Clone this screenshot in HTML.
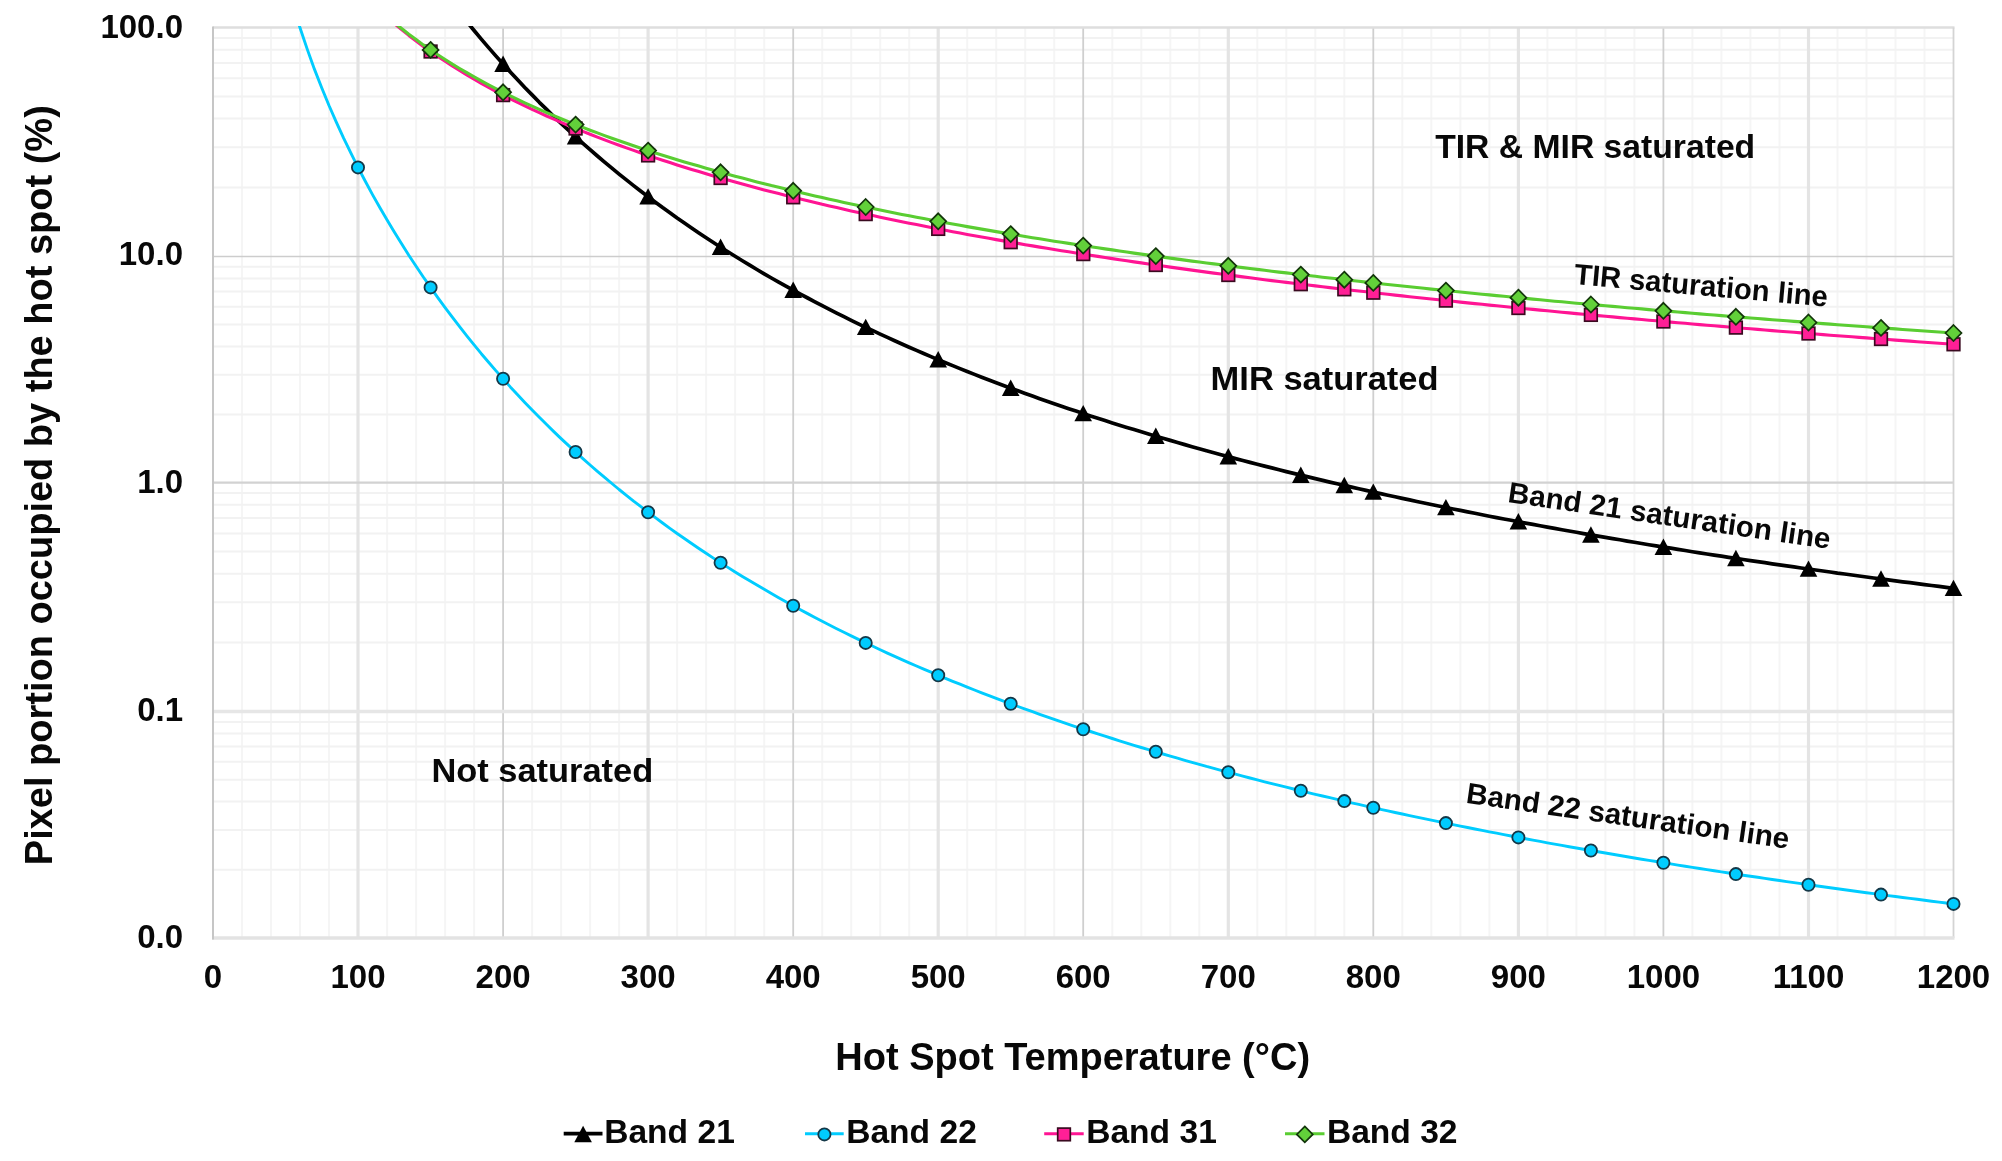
<!DOCTYPE html>
<html lang="en"><head><meta charset="utf-8"><title>Saturation lines</title>
<style>html,body{margin:0;padding:0;background:#fff;}body{width:2002px;height:1161px;overflow:hidden;}svg{display:block;filter:blur(0.55px);}
text{font-family:"Liberation Sans",Arial,sans-serif;font-weight:bold;fill:#080808;}
.ax{font-size:33px;}.ttl{font-size:38px;}.lg{font-size:33.6px;}.ann{font-size:33.3px;}.rot{font-size:29.3px;}
</style></head><body>
<svg width="2002" height="1161" viewBox="0 0 2002 1161">
<defs><clipPath id="plot"><rect x="212.0" y="26.0" width="1742.5" height="913.5"/></clipPath></defs>
<rect width="2002" height="1161" fill="#fff"/>
<g stroke="#f5f5f5" stroke-width="2" fill="none">
<line x1="242.0" y1="27.5" x2="242.0" y2="938.0"/>
<line x1="271.0" y1="27.5" x2="271.0" y2="938.0"/>
<line x1="300.0" y1="27.5" x2="300.0" y2="938.0"/>
<line x1="329.0" y1="27.5" x2="329.0" y2="938.0"/>
<line x1="387.1" y1="27.5" x2="387.1" y2="938.0"/>
<line x1="416.1" y1="27.5" x2="416.1" y2="938.0"/>
<line x1="445.1" y1="27.5" x2="445.1" y2="938.0"/>
<line x1="474.1" y1="27.5" x2="474.1" y2="938.0"/>
<line x1="532.1" y1="27.5" x2="532.1" y2="938.0"/>
<line x1="561.1" y1="27.5" x2="561.1" y2="938.0"/>
<line x1="590.1" y1="27.5" x2="590.1" y2="938.0"/>
<line x1="619.1" y1="27.5" x2="619.1" y2="938.0"/>
<line x1="677.1" y1="27.5" x2="677.1" y2="938.0"/>
<line x1="706.1" y1="27.5" x2="706.1" y2="938.0"/>
<line x1="735.1" y1="27.5" x2="735.1" y2="938.0"/>
<line x1="764.2" y1="27.5" x2="764.2" y2="938.0"/>
<line x1="822.2" y1="27.5" x2="822.2" y2="938.0"/>
<line x1="851.2" y1="27.5" x2="851.2" y2="938.0"/>
<line x1="880.2" y1="27.5" x2="880.2" y2="938.0"/>
<line x1="909.2" y1="27.5" x2="909.2" y2="938.0"/>
<line x1="967.2" y1="27.5" x2="967.2" y2="938.0"/>
<line x1="996.2" y1="27.5" x2="996.2" y2="938.0"/>
<line x1="1025.2" y1="27.5" x2="1025.2" y2="938.0"/>
<line x1="1054.2" y1="27.5" x2="1054.2" y2="938.0"/>
<line x1="1112.3" y1="27.5" x2="1112.3" y2="938.0"/>
<line x1="1141.3" y1="27.5" x2="1141.3" y2="938.0"/>
<line x1="1170.3" y1="27.5" x2="1170.3" y2="938.0"/>
<line x1="1199.3" y1="27.5" x2="1199.3" y2="938.0"/>
<line x1="1257.3" y1="27.5" x2="1257.3" y2="938.0"/>
<line x1="1286.3" y1="27.5" x2="1286.3" y2="938.0"/>
<line x1="1315.3" y1="27.5" x2="1315.3" y2="938.0"/>
<line x1="1344.3" y1="27.5" x2="1344.3" y2="938.0"/>
<line x1="1402.3" y1="27.5" x2="1402.3" y2="938.0"/>
<line x1="1431.3" y1="27.5" x2="1431.3" y2="938.0"/>
<line x1="1460.4" y1="27.5" x2="1460.4" y2="938.0"/>
<line x1="1489.4" y1="27.5" x2="1489.4" y2="938.0"/>
<line x1="1547.4" y1="27.5" x2="1547.4" y2="938.0"/>
<line x1="1576.4" y1="27.5" x2="1576.4" y2="938.0"/>
<line x1="1605.4" y1="27.5" x2="1605.4" y2="938.0"/>
<line x1="1634.4" y1="27.5" x2="1634.4" y2="938.0"/>
<line x1="1692.4" y1="27.5" x2="1692.4" y2="938.0"/>
<line x1="1721.4" y1="27.5" x2="1721.4" y2="938.0"/>
<line x1="1750.4" y1="27.5" x2="1750.4" y2="938.0"/>
<line x1="1779.5" y1="27.5" x2="1779.5" y2="938.0"/>
<line x1="1837.5" y1="27.5" x2="1837.5" y2="938.0"/>
<line x1="1866.5" y1="27.5" x2="1866.5" y2="938.0"/>
<line x1="1895.5" y1="27.5" x2="1895.5" y2="938.0"/>
<line x1="1924.5" y1="27.5" x2="1924.5" y2="938.0"/>
</g>
<g stroke="#f2f2f2" stroke-width="2" fill="none">
<line x1="213.0" y1="187.6" x2="1953.5" y2="187.6"/>
<line x1="213.0" y1="147.2" x2="1953.5" y2="147.2"/>
<line x1="213.0" y1="118.6" x2="1953.5" y2="118.6"/>
<line x1="213.0" y1="96.4" x2="1953.5" y2="96.4"/>
<line x1="213.0" y1="78.3" x2="1953.5" y2="78.3"/>
<line x1="213.0" y1="63.0" x2="1953.5" y2="63.0"/>
<line x1="213.0" y1="49.7" x2="1953.5" y2="49.7"/>
<line x1="213.0" y1="38.0" x2="1953.5" y2="38.0"/>
<line x1="213.0" y1="414.5" x2="1953.5" y2="414.5"/>
<line x1="213.0" y1="374.7" x2="1953.5" y2="374.7"/>
<line x1="213.0" y1="346.5" x2="1953.5" y2="346.5"/>
<line x1="213.0" y1="324.6" x2="1953.5" y2="324.6"/>
<line x1="213.0" y1="306.7" x2="1953.5" y2="306.7"/>
<line x1="213.0" y1="291.5" x2="1953.5" y2="291.5"/>
<line x1="213.0" y1="278.4" x2="1953.5" y2="278.4"/>
<line x1="213.0" y1="266.8" x2="1953.5" y2="266.8"/>
<line x1="213.0" y1="642.6" x2="1953.5" y2="642.6"/>
<line x1="213.0" y1="602.3" x2="1953.5" y2="602.3"/>
<line x1="213.0" y1="573.7" x2="1953.5" y2="573.7"/>
<line x1="213.0" y1="551.5" x2="1953.5" y2="551.5"/>
<line x1="213.0" y1="533.4" x2="1953.5" y2="533.4"/>
<line x1="213.0" y1="518.1" x2="1953.5" y2="518.1"/>
<line x1="213.0" y1="504.8" x2="1953.5" y2="504.8"/>
<line x1="213.0" y1="493.1" x2="1953.5" y2="493.1"/>
<line x1="213.0" y1="869.8" x2="1953.5" y2="869.8"/>
<line x1="213.0" y1="829.9" x2="1953.5" y2="829.9"/>
<line x1="213.0" y1="801.6" x2="1953.5" y2="801.6"/>
<line x1="213.0" y1="779.7" x2="1953.5" y2="779.7"/>
<line x1="213.0" y1="761.7" x2="1953.5" y2="761.7"/>
<line x1="213.0" y1="746.6" x2="1953.5" y2="746.6"/>
<line x1="213.0" y1="733.5" x2="1953.5" y2="733.5"/>
<line x1="213.0" y1="721.9" x2="1953.5" y2="721.9"/>
</g>
<line x1="358.0" y1="27.5" x2="358.0" y2="938.0" stroke="#e4e4e4" stroke-width="3.2"/>
<line x1="503.1" y1="27.5" x2="503.1" y2="938.0" stroke="#cfcfcf" stroke-width="1.8"/>
<line x1="648.1" y1="27.5" x2="648.1" y2="938.0" stroke="#e4e4e4" stroke-width="3.2"/>
<line x1="793.2" y1="27.5" x2="793.2" y2="938.0" stroke="#cfcfcf" stroke-width="1.8"/>
<line x1="938.2" y1="27.5" x2="938.2" y2="938.0" stroke="#e4e4e4" stroke-width="3.2"/>
<line x1="1083.2" y1="27.5" x2="1083.2" y2="938.0" stroke="#cfcfcf" stroke-width="1.8"/>
<line x1="1228.3" y1="27.5" x2="1228.3" y2="938.0" stroke="#e4e4e4" stroke-width="3.2"/>
<line x1="1373.3" y1="27.5" x2="1373.3" y2="938.0" stroke="#cfcfcf" stroke-width="1.8"/>
<line x1="1518.4" y1="27.5" x2="1518.4" y2="938.0" stroke="#e4e4e4" stroke-width="3.2"/>
<line x1="1663.4" y1="27.5" x2="1663.4" y2="938.0" stroke="#cfcfcf" stroke-width="1.8"/>
<line x1="1808.5" y1="27.5" x2="1808.5" y2="938.0" stroke="#e4e4e4" stroke-width="3.2"/>
<line x1="213.0" y1="256.5" x2="1953.5" y2="256.5" stroke="#cdcdcd" stroke-width="1.4"/>
<line x1="213.0" y1="482.6" x2="1953.5" y2="482.6" stroke="#d2d2d2" stroke-width="2.2"/>
<line x1="213.0" y1="711.5" x2="1953.5" y2="711.5" stroke="#e6e6e6" stroke-width="3.6"/>
<line x1="213.0" y1="27.5" x2="1954.5" y2="27.5" stroke="#dedede" stroke-width="2.4"/>
<line x1="1953.5" y1="27.5" x2="1953.5" y2="938.0" stroke="#d4d4d4" stroke-width="1.8"/>
<line x1="212.0" y1="938.0" x2="1954.5" y2="938.0" stroke="#e3e3e3" stroke-width="3.4"/>
<line x1="213.0" y1="26.5" x2="213.0" y2="939.5" stroke="#c6c6c6" stroke-width="2"/>
<g>
<path d="M408.8 -57.4 L416.1 -46.6 L423.3 -36.2 L430.6 -26.0 L437.8 -16.0 L445.1 -6.3 L452.3 3.2 L459.6 12.5 L466.8 21.6 L474.1 30.5 L481.3 39.1 L488.6 47.6 L495.8 55.9 L503.1 64.1 L510.3 72.0 L517.6 79.8 L524.8 87.5 L532.1 94.9 L539.3 102.3 L546.6 109.4 L553.8 116.5 L561.1 123.4 L568.4 130.1 L575.6 136.8 L582.9 143.3 L590.1 149.7 L597.4 156.0 L604.6 162.1 L611.9 168.2 L619.1 174.1 L626.4 179.9 L633.6 185.6 L640.9 191.3 L648.1 196.8 L655.4 202.2 L662.6 207.6 L669.9 212.8 L677.1 218.0 L684.4 223.0 L691.6 228.0 L698.9 233.0 L706.1 237.8 L713.4 242.5 L720.6 247.2 L727.9 251.8 L735.1 256.3 L742.4 260.8 L749.7 265.2 L756.9 269.5 L764.2 273.8 L771.4 278.0 L778.7 282.1 L785.9 286.2 L793.2 290.2 L800.4 294.1 L807.7 298.0 L814.9 301.9 L822.2 305.7 L829.4 309.4 L836.7 313.1 L843.9 316.7 L851.2 320.3 L858.4 323.8 L865.7 327.3 L872.9 330.7 L880.2 334.1 L887.4 337.4 L894.7 340.7 L901.9 344.0 L909.2 347.2 L916.5 350.4 L923.7 353.5 L931.0 356.6 L938.2 359.7 L945.5 362.7 L952.7 365.6 L960.0 368.6 L967.2 371.5 L974.5 374.4 L981.7 377.2 L989.0 380.0 L996.2 382.7 L1003.5 385.5 L1010.7 388.2 L1018.0 390.8 L1025.2 393.5 L1032.5 396.1 L1039.7 398.7 L1047.0 401.2 L1054.2 403.7 L1061.5 406.2 L1068.7 408.7 L1076.0 411.1 L1083.2 413.5 L1090.5 415.9 L1097.8 418.2 L1105.0 420.6 L1112.3 422.9 L1119.5 425.2 L1126.8 427.4 L1134.0 429.6 L1141.3 431.8 L1148.5 434.0 L1155.8 436.2 L1163.0 438.3 L1170.3 440.4 L1177.5 442.5 L1184.8 444.6 L1192.0 446.7 L1199.3 448.7 L1206.5 450.7 L1213.8 452.7 L1221.0 454.7 L1228.3 456.6 L1235.5 458.6 L1242.8 460.5 L1250.0 462.4 L1257.3 464.2 L1264.6 466.1 L1271.8 467.9 L1279.1 469.8 L1286.3 471.6 L1293.6 473.4 L1300.8 475.1 L1308.1 476.9 L1315.3 478.6 L1322.6 480.4 L1329.8 482.1 L1337.1 483.8 L1344.3 485.4 L1351.6 487.1 L1358.8 488.8 L1366.1 490.4 L1373.3 492.0 L1380.6 493.6 L1387.8 495.2 L1395.1 496.8 L1402.3 498.4 L1409.6 499.9 L1416.8 501.5 L1424.1 503.0 L1431.3 504.5 L1438.6 506.0 L1445.9 507.5 L1453.1 509.0 L1460.4 510.4 L1467.6 511.9 L1474.9 513.3 L1482.1 514.7 L1489.4 516.2 L1496.6 517.6 L1503.9 519.0 L1511.1 520.3 L1518.4 521.7 L1525.6 523.1 L1532.9 524.4 L1540.1 525.8 L1547.4 527.1 L1554.6 528.4 L1561.9 529.7 L1569.1 531.0 L1576.4 532.3 L1583.6 533.6 L1590.9 534.9 L1598.1 536.1 L1605.4 537.4 L1612.7 538.6 L1619.9 539.8 L1627.2 541.1 L1634.4 542.3 L1641.7 543.5 L1648.9 544.7 L1656.2 545.9 L1663.4 547.1 L1670.7 548.2 L1677.9 549.4 L1685.2 550.5 L1692.4 551.7 L1699.7 552.8 L1706.9 554.0 L1714.2 555.1 L1721.4 556.2 L1728.7 557.3 L1735.9 558.4 L1743.2 559.5 L1750.4 560.6 L1757.7 561.7 L1764.9 562.7 L1772.2 563.8 L1779.5 564.8 L1786.7 565.9 L1794.0 566.9 L1801.2 568.0 L1808.5 569.0 L1815.7 570.0 L1823.0 571.0 L1830.2 572.0 L1837.5 573.1 L1844.7 574.0 L1852.0 575.0 L1859.2 576.0 L1866.5 577.0 L1873.7 578.0 L1881.0 578.9 L1888.2 579.9 L1895.5 580.8 L1902.7 581.8 L1910.0 582.7 L1917.2 583.7 L1924.5 584.6 L1931.7 585.5 L1939.0 586.4 L1946.2 587.3 L1953.5 588.3" fill="none" stroke="#000000" stroke-width="3.7" stroke-linejoin="round" clip-path="url(#plot)"/>
<path d="M503.1 55.5 l8.8 16.4 h-17.6 z" fill="#000"/>
<path d="M575.6 128.2 l8.8 16.4 h-17.6 z" fill="#000"/>
<path d="M648.1 188.2 l8.8 16.4 h-17.6 z" fill="#000"/>
<path d="M720.6 238.6 l8.8 16.4 h-17.6 z" fill="#000"/>
<path d="M793.2 281.6 l8.8 16.4 h-17.6 z" fill="#000"/>
<path d="M865.7 318.7 l8.8 16.4 h-17.6 z" fill="#000"/>
<path d="M938.2 351.1 l8.8 16.4 h-17.6 z" fill="#000"/>
<path d="M1010.7 379.6 l8.8 16.4 h-17.6 z" fill="#000"/>
<path d="M1083.2 404.9 l8.8 16.4 h-17.6 z" fill="#000"/>
<path d="M1155.8 427.6 l8.8 16.4 h-17.6 z" fill="#000"/>
<path d="M1228.3 448.0 l8.8 16.4 h-17.6 z" fill="#000"/>
<path d="M1300.8 466.5 l8.8 16.4 h-17.6 z" fill="#000"/>
<path d="M1344.3 476.8 l8.8 16.4 h-17.6 z" fill="#000"/>
<path d="M1373.3 483.4 l8.8 16.4 h-17.6 z" fill="#000"/>
<path d="M1445.9 498.9 l8.8 16.4 h-17.6 z" fill="#000"/>
<path d="M1518.4 513.1 l8.8 16.4 h-17.6 z" fill="#000"/>
<path d="M1590.9 526.3 l8.8 16.4 h-17.6 z" fill="#000"/>
<path d="M1663.4 538.5 l8.8 16.4 h-17.6 z" fill="#000"/>
<path d="M1735.9 549.8 l8.8 16.4 h-17.6 z" fill="#000"/>
<path d="M1808.5 560.4 l8.8 16.4 h-17.6 z" fill="#000"/>
<path d="M1881.0 570.3 l8.8 16.4 h-17.6 z" fill="#000"/>
<path d="M1953.5 579.7 l8.8 16.4 h-17.6 z" fill="#000"/>
<path d="M278.3 -53.8 L285.5 -22.8 L292.8 4.0 L300.0 27.8 L307.3 49.4 L314.5 69.4 L321.8 88.0 L329.0 105.5 L336.3 122.1 L343.5 137.9 L350.8 152.9 L358.0 167.4 L365.3 181.2 L372.5 194.6 L379.8 207.5 L387.1 220.0 L394.3 232.1 L401.6 243.8 L408.8 255.2 L416.1 266.2 L423.3 277.0 L430.6 287.4 L437.8 297.6 L445.1 307.6 L452.3 317.2 L459.6 326.7 L466.8 335.9 L474.1 344.9 L481.3 353.7 L488.6 362.2 L495.8 370.6 L503.1 378.8 L510.3 386.9 L517.6 394.7 L524.8 402.4 L532.1 409.9 L539.3 417.3 L546.6 424.5 L553.8 431.6 L561.1 438.6 L568.4 445.4 L575.6 452.0 L582.9 458.6 L590.1 465.0 L597.4 471.3 L604.6 477.4 L611.9 483.5 L619.1 489.5 L626.4 495.3 L633.6 501.1 L640.9 506.7 L648.1 512.2 L655.4 517.7 L662.6 523.0 L669.9 528.3 L677.1 533.5 L684.4 538.5 L691.6 543.5 L698.9 548.5 L706.1 553.3 L713.4 558.1 L720.6 562.7 L727.9 567.4 L735.1 571.9 L742.4 576.4 L749.7 580.8 L756.9 585.1 L764.2 589.3 L771.4 593.5 L778.7 597.7 L785.9 601.8 L793.2 605.8 L800.4 609.7 L807.7 613.6 L814.9 617.5 L822.2 621.3 L829.4 625.0 L836.7 628.7 L843.9 632.3 L851.2 635.9 L858.4 639.4 L865.7 642.9 L872.9 646.3 L880.2 649.7 L887.4 653.1 L894.7 656.4 L901.9 659.6 L909.2 662.8 L916.5 666.0 L923.7 669.1 L931.0 672.2 L938.2 675.3 L945.5 678.3 L952.7 681.3 L960.0 684.2 L967.2 687.1 L974.5 690.0 L981.7 692.8 L989.0 695.6 L996.2 698.4 L1003.5 701.1 L1010.7 703.8 L1018.0 706.5 L1025.2 709.1 L1032.5 711.7 L1039.7 714.3 L1047.0 716.8 L1054.2 719.4 L1061.5 721.9 L1068.7 724.3 L1076.0 726.8 L1083.2 729.2 L1090.5 731.5 L1097.8 733.9 L1105.0 736.2 L1112.3 738.5 L1119.5 740.8 L1126.8 743.1 L1134.0 745.3 L1141.3 747.5 L1148.5 749.7 L1155.8 751.8 L1163.0 754.0 L1170.3 756.1 L1177.5 758.2 L1184.8 760.3 L1192.0 762.3 L1199.3 764.3 L1206.5 766.4 L1213.8 768.3 L1221.0 770.3 L1228.3 772.3 L1235.5 774.2 L1242.8 776.1 L1250.0 778.0 L1257.3 779.9 L1264.6 781.8 L1271.8 783.6 L1279.1 785.4 L1286.3 787.2 L1293.6 789.0 L1300.8 790.8 L1308.1 792.6 L1315.3 794.3 L1322.6 796.0 L1329.8 797.7 L1337.1 799.4 L1344.3 801.1 L1351.6 802.8 L1358.8 804.4 L1366.1 806.1 L1373.3 807.7 L1380.6 809.3 L1387.8 810.9 L1395.1 812.5 L1402.3 814.0 L1409.6 815.6 L1416.8 817.1 L1424.1 818.6 L1431.3 820.2 L1438.6 821.7 L1445.9 823.1 L1453.1 824.6 L1460.4 826.1 L1467.6 827.5 L1474.9 829.0 L1482.1 830.4 L1489.4 831.8 L1496.6 833.2 L1503.9 834.6 L1511.1 836.0 L1518.4 837.4 L1525.6 838.7 L1532.9 840.1 L1540.1 841.4 L1547.4 842.8 L1554.6 844.1 L1561.9 845.4 L1569.1 846.7 L1576.4 848.0 L1583.6 849.3 L1590.9 850.5 L1598.1 851.8 L1605.4 853.0 L1612.7 854.3 L1619.9 855.5 L1627.2 856.7 L1634.4 858.0 L1641.7 859.2 L1648.9 860.4 L1656.2 861.5 L1663.4 862.7 L1670.7 863.9 L1677.9 865.1 L1685.2 866.2 L1692.4 867.4 L1699.7 868.5 L1706.9 869.6 L1714.2 870.8 L1721.4 871.9 L1728.7 873.0 L1735.9 874.1 L1743.2 875.2 L1750.4 876.2 L1757.7 877.3 L1764.9 878.4 L1772.2 879.5 L1779.5 880.5 L1786.7 881.6 L1794.0 882.6 L1801.2 883.6 L1808.5 884.7 L1815.7 885.7 L1823.0 886.7 L1830.2 887.7 L1837.5 888.7 L1844.7 889.7 L1852.0 890.7 L1859.2 891.7 L1866.5 892.7 L1873.7 893.6 L1881.0 894.6 L1888.2 895.6 L1895.5 896.5 L1902.7 897.5 L1910.0 898.4 L1917.2 899.3 L1924.5 900.3 L1931.7 901.2 L1939.0 902.1 L1946.2 903.0 L1953.5 903.9" fill="none" stroke="#00ccff" stroke-width="2.9" stroke-linejoin="round" clip-path="url(#plot)"/>
<circle cx="358.0" cy="167.4" r="6.1" fill="#00ccff" stroke="#143848" stroke-width="1.8"/>
<circle cx="430.6" cy="287.4" r="6.1" fill="#00ccff" stroke="#143848" stroke-width="1.8"/>
<circle cx="503.1" cy="378.8" r="6.1" fill="#00ccff" stroke="#143848" stroke-width="1.8"/>
<circle cx="575.6" cy="452.0" r="6.1" fill="#00ccff" stroke="#143848" stroke-width="1.8"/>
<circle cx="648.1" cy="512.2" r="6.1" fill="#00ccff" stroke="#143848" stroke-width="1.8"/>
<circle cx="720.6" cy="562.7" r="6.1" fill="#00ccff" stroke="#143848" stroke-width="1.8"/>
<circle cx="793.2" cy="605.8" r="6.1" fill="#00ccff" stroke="#143848" stroke-width="1.8"/>
<circle cx="865.7" cy="642.9" r="6.1" fill="#00ccff" stroke="#143848" stroke-width="1.8"/>
<circle cx="938.2" cy="675.3" r="6.1" fill="#00ccff" stroke="#143848" stroke-width="1.8"/>
<circle cx="1010.7" cy="703.8" r="6.1" fill="#00ccff" stroke="#143848" stroke-width="1.8"/>
<circle cx="1083.2" cy="729.2" r="6.1" fill="#00ccff" stroke="#143848" stroke-width="1.8"/>
<circle cx="1155.8" cy="751.8" r="6.1" fill="#00ccff" stroke="#143848" stroke-width="1.8"/>
<circle cx="1228.3" cy="772.3" r="6.1" fill="#00ccff" stroke="#143848" stroke-width="1.8"/>
<circle cx="1300.8" cy="790.8" r="6.1" fill="#00ccff" stroke="#143848" stroke-width="1.8"/>
<circle cx="1344.3" cy="801.1" r="6.1" fill="#00ccff" stroke="#143848" stroke-width="1.8"/>
<circle cx="1373.3" cy="807.7" r="6.1" fill="#00ccff" stroke="#143848" stroke-width="1.8"/>
<circle cx="1445.9" cy="823.1" r="6.1" fill="#00ccff" stroke="#143848" stroke-width="1.8"/>
<circle cx="1518.4" cy="837.4" r="6.1" fill="#00ccff" stroke="#143848" stroke-width="1.8"/>
<circle cx="1590.9" cy="850.5" r="6.1" fill="#00ccff" stroke="#143848" stroke-width="1.8"/>
<circle cx="1663.4" cy="862.7" r="6.1" fill="#00ccff" stroke="#143848" stroke-width="1.8"/>
<circle cx="1735.9" cy="874.1" r="6.1" fill="#00ccff" stroke="#143848" stroke-width="1.8"/>
<circle cx="1808.5" cy="884.7" r="6.1" fill="#00ccff" stroke="#143848" stroke-width="1.8"/>
<circle cx="1881.0" cy="894.6" r="6.1" fill="#00ccff" stroke="#143848" stroke-width="1.8"/>
<circle cx="1953.5" cy="903.9" r="6.1" fill="#00ccff" stroke="#143848" stroke-width="1.8"/>
<path d="M321.8 -57.8 L329.0 -47.1 L336.3 -37.2 L343.5 -28.0 L350.8 -19.3 L358.0 -11.2 L365.3 -3.5 L372.5 3.8 L379.8 10.7 L387.1 17.3 L394.3 23.6 L401.6 29.6 L408.8 35.4 L416.1 41.0 L423.3 46.4 L430.6 51.5 L437.8 56.5 L445.1 61.3 L452.3 66.0 L459.6 70.5 L466.8 74.9 L474.1 79.2 L481.3 83.3 L488.6 87.3 L495.8 91.3 L503.1 95.1 L510.3 98.8 L517.6 102.4 L524.8 105.9 L532.1 109.4 L539.3 112.7 L546.6 116.0 L553.8 119.2 L561.1 122.4 L568.4 125.5 L575.6 128.5 L582.9 131.4 L590.1 134.3 L597.4 137.1 L604.6 139.9 L611.9 142.6 L619.1 145.3 L626.4 147.9 L633.6 150.4 L640.9 153.0 L648.1 155.4 L655.4 157.9 L662.6 160.3 L669.9 162.6 L677.1 164.9 L684.4 167.2 L691.6 169.4 L698.9 171.6 L706.1 173.8 L713.4 175.9 L720.6 178.0 L727.9 180.0 L735.1 182.1 L742.4 184.1 L749.7 186.0 L756.9 188.0 L764.2 189.9 L771.4 191.8 L778.7 193.6 L785.9 195.5 L793.2 197.3 L800.4 199.1 L807.7 200.8 L814.9 202.5 L822.2 204.3 L829.4 205.9 L836.7 207.6 L843.9 209.3 L851.2 210.9 L858.4 212.5 L865.7 214.1 L872.9 215.6 L880.2 217.2 L887.4 218.7 L894.7 220.2 L901.9 221.7 L909.2 223.2 L916.5 224.6 L923.7 226.1 L931.0 227.5 L938.2 228.9 L945.5 230.3 L952.7 231.7 L960.0 233.0 L967.2 234.4 L974.5 235.7 L981.7 237.0 L989.0 238.3 L996.2 239.6 L1003.5 240.9 L1010.7 242.2 L1018.0 243.4 L1025.2 244.7 L1032.5 245.9 L1039.7 247.1 L1047.0 248.3 L1054.2 249.5 L1061.5 250.7 L1068.7 251.8 L1076.0 253.0 L1083.2 254.1 L1090.5 255.3 L1097.8 256.4 L1105.0 257.5 L1112.3 258.6 L1119.5 259.7 L1126.8 260.8 L1134.0 261.9 L1141.3 262.9 L1148.5 264.0 L1155.8 265.0 L1163.0 266.0 L1170.3 267.1 L1177.5 268.1 L1184.8 269.1 L1192.0 270.1 L1199.3 271.1 L1206.5 272.1 L1213.8 273.1 L1221.0 274.0 L1228.3 275.0 L1235.5 275.9 L1242.8 276.9 L1250.0 277.8 L1257.3 278.7 L1264.6 279.7 L1271.8 280.6 L1279.1 281.5 L1286.3 282.4 L1293.6 283.3 L1300.8 284.2 L1308.1 285.0 L1315.3 285.9 L1322.6 286.8 L1329.8 287.6 L1337.1 288.5 L1344.3 289.3 L1351.6 290.2 L1358.8 291.0 L1366.1 291.8 L1373.3 292.7 L1380.6 293.5 L1387.8 294.3 L1395.1 295.1 L1402.3 295.9 L1409.6 296.7 L1416.8 297.5 L1424.1 298.3 L1431.3 299.0 L1438.6 299.8 L1445.9 300.6 L1453.1 301.3 L1460.4 302.1 L1467.6 302.9 L1474.9 303.6 L1482.1 304.3 L1489.4 305.1 L1496.6 305.8 L1503.9 306.5 L1511.1 307.3 L1518.4 308.0 L1525.6 308.7 L1532.9 309.4 L1540.1 310.1 L1547.4 310.8 L1554.6 311.5 L1561.9 312.2 L1569.1 312.9 L1576.4 313.6 L1583.6 314.2 L1590.9 314.9 L1598.1 315.6 L1605.4 316.3 L1612.7 316.9 L1619.9 317.6 L1627.2 318.2 L1634.4 318.9 L1641.7 319.5 L1648.9 320.2 L1656.2 320.8 L1663.4 321.5 L1670.7 322.1 L1677.9 322.7 L1685.2 323.3 L1692.4 324.0 L1699.7 324.6 L1706.9 325.2 L1714.2 325.8 L1721.4 326.4 L1728.7 327.0 L1735.9 327.6 L1743.2 328.2 L1750.4 328.8 L1757.7 329.4 L1764.9 330.0 L1772.2 330.6 L1779.5 331.2 L1786.7 331.7 L1794.0 332.3 L1801.2 332.9 L1808.5 333.5 L1815.7 334.0 L1823.0 334.6 L1830.2 335.2 L1837.5 335.7 L1844.7 336.3 L1852.0 336.8 L1859.2 337.4 L1866.5 337.9 L1873.7 338.5 L1881.0 339.0 L1888.2 339.5 L1895.5 340.1 L1902.7 340.6 L1910.0 341.1 L1917.2 341.7 L1924.5 342.2 L1931.7 342.7 L1939.0 343.2 L1946.2 343.8 L1953.5 344.3" fill="none" stroke="#ff1493" stroke-width="3.1" stroke-linejoin="round" clip-path="url(#plot)"/>
<rect x="424.3" y="45.2" width="12.6" height="12.6" fill="#ff1f96" stroke="#3a0a20" stroke-width="1.7"/>
<rect x="496.8" y="88.8" width="12.6" height="12.6" fill="#ff1f96" stroke="#3a0a20" stroke-width="1.7"/>
<rect x="569.3" y="122.2" width="12.6" height="12.6" fill="#ff1f96" stroke="#3a0a20" stroke-width="1.7"/>
<rect x="641.8" y="149.1" width="12.6" height="12.6" fill="#ff1f96" stroke="#3a0a20" stroke-width="1.7"/>
<rect x="714.3" y="171.7" width="12.6" height="12.6" fill="#ff1f96" stroke="#3a0a20" stroke-width="1.7"/>
<rect x="786.9" y="191.0" width="12.6" height="12.6" fill="#ff1f96" stroke="#3a0a20" stroke-width="1.7"/>
<rect x="859.4" y="207.8" width="12.6" height="12.6" fill="#ff1f96" stroke="#3a0a20" stroke-width="1.7"/>
<rect x="931.9" y="222.6" width="12.6" height="12.6" fill="#ff1f96" stroke="#3a0a20" stroke-width="1.7"/>
<rect x="1004.4" y="235.9" width="12.6" height="12.6" fill="#ff1f96" stroke="#3a0a20" stroke-width="1.7"/>
<rect x="1077.0" y="247.8" width="12.6" height="12.6" fill="#ff1f96" stroke="#3a0a20" stroke-width="1.7"/>
<rect x="1149.5" y="258.7" width="12.6" height="12.6" fill="#ff1f96" stroke="#3a0a20" stroke-width="1.7"/>
<rect x="1222.0" y="268.7" width="12.6" height="12.6" fill="#ff1f96" stroke="#3a0a20" stroke-width="1.7"/>
<rect x="1294.5" y="277.9" width="12.6" height="12.6" fill="#ff1f96" stroke="#3a0a20" stroke-width="1.7"/>
<rect x="1338.0" y="283.0" width="12.6" height="12.6" fill="#ff1f96" stroke="#3a0a20" stroke-width="1.7"/>
<rect x="1367.0" y="286.4" width="12.6" height="12.6" fill="#ff1f96" stroke="#3a0a20" stroke-width="1.7"/>
<rect x="1439.6" y="294.3" width="12.6" height="12.6" fill="#ff1f96" stroke="#3a0a20" stroke-width="1.7"/>
<rect x="1512.1" y="301.7" width="12.6" height="12.6" fill="#ff1f96" stroke="#3a0a20" stroke-width="1.7"/>
<rect x="1584.6" y="308.6" width="12.6" height="12.6" fill="#ff1f96" stroke="#3a0a20" stroke-width="1.7"/>
<rect x="1657.1" y="315.2" width="12.6" height="12.6" fill="#ff1f96" stroke="#3a0a20" stroke-width="1.7"/>
<rect x="1729.6" y="321.3" width="12.6" height="12.6" fill="#ff1f96" stroke="#3a0a20" stroke-width="1.7"/>
<rect x="1802.2" y="327.2" width="12.6" height="12.6" fill="#ff1f96" stroke="#3a0a20" stroke-width="1.7"/>
<rect x="1874.7" y="332.7" width="12.6" height="12.6" fill="#ff1f96" stroke="#3a0a20" stroke-width="1.7"/>
<rect x="1947.2" y="338.0" width="12.6" height="12.6" fill="#ff1f96" stroke="#3a0a20" stroke-width="1.7"/>
<path d="M321.8 -58.5 L329.0 -47.7 L336.3 -37.7 L343.5 -28.5 L350.8 -19.9 L358.0 -11.8 L365.3 -4.2 L372.5 3.0 L379.8 9.9 L387.1 16.4 L394.3 22.6 L401.6 28.5 L408.8 34.2 L416.1 39.6 L423.3 44.9 L430.6 49.9 L437.8 54.8 L445.1 59.5 L452.3 64.1 L459.6 68.5 L466.8 72.7 L474.1 76.9 L481.3 80.9 L488.6 84.8 L495.8 88.6 L503.1 92.3 L510.3 95.9 L517.6 99.4 L524.8 102.8 L532.1 106.1 L539.3 109.4 L546.6 112.6 L553.8 115.7 L561.1 118.7 L568.4 121.7 L575.6 124.6 L582.9 127.4 L590.1 130.2 L597.4 132.9 L604.6 135.6 L611.9 138.2 L619.1 140.8 L626.4 143.3 L633.6 145.8 L640.9 148.2 L648.1 150.6 L655.4 152.9 L662.6 155.2 L669.9 157.5 L677.1 159.7 L684.4 161.9 L691.6 164.0 L698.9 166.1 L706.1 168.2 L713.4 170.3 L720.6 172.3 L727.9 174.3 L735.1 176.2 L742.4 178.1 L749.7 180.0 L756.9 181.9 L764.2 183.7 L771.4 185.6 L778.7 187.3 L785.9 189.1 L793.2 190.8 L800.4 192.6 L807.7 194.3 L814.9 195.9 L822.2 197.6 L829.4 199.2 L836.7 200.8 L843.9 202.4 L851.2 203.9 L858.4 205.5 L865.7 207.0 L872.9 208.5 L880.2 210.0 L887.4 211.5 L894.7 212.9 L901.9 214.4 L909.2 215.8 L916.5 217.2 L923.7 218.6 L931.0 220.0 L938.2 221.3 L945.5 222.7 L952.7 224.0 L960.0 225.3 L967.2 226.6 L974.5 227.9 L981.7 229.1 L989.0 230.4 L996.2 231.6 L1003.5 232.9 L1010.7 234.1 L1018.0 235.3 L1025.2 236.5 L1032.5 237.7 L1039.7 238.8 L1047.0 240.0 L1054.2 241.2 L1061.5 242.3 L1068.7 243.4 L1076.0 244.5 L1083.2 245.6 L1090.5 246.7 L1097.8 247.8 L1105.0 248.9 L1112.3 249.9 L1119.5 251.0 L1126.8 252.0 L1134.0 253.1 L1141.3 254.1 L1148.5 255.1 L1155.8 256.1 L1163.0 257.1 L1170.3 258.1 L1177.5 259.1 L1184.8 260.1 L1192.0 261.1 L1199.3 262.0 L1206.5 263.0 L1213.8 263.9 L1221.0 264.8 L1228.3 265.8 L1235.5 266.7 L1242.8 267.6 L1250.0 268.5 L1257.3 269.4 L1264.6 270.3 L1271.8 271.2 L1279.1 272.1 L1286.3 272.9 L1293.6 273.8 L1300.8 274.6 L1308.1 275.5 L1315.3 276.3 L1322.6 277.2 L1329.8 278.0 L1337.1 278.8 L1344.3 279.7 L1351.6 280.5 L1358.8 281.3 L1366.1 282.1 L1373.3 282.9 L1380.6 283.7 L1387.8 284.5 L1395.1 285.2 L1402.3 286.0 L1409.6 286.8 L1416.8 287.5 L1424.1 288.3 L1431.3 289.1 L1438.6 289.8 L1445.9 290.6 L1453.1 291.3 L1460.4 292.0 L1467.6 292.8 L1474.9 293.5 L1482.1 294.2 L1489.4 294.9 L1496.6 295.6 L1503.9 296.3 L1511.1 297.0 L1518.4 297.7 L1525.6 298.4 L1532.9 299.1 L1540.1 299.8 L1547.4 300.5 L1554.6 301.2 L1561.9 301.8 L1569.1 302.5 L1576.4 303.2 L1583.6 303.8 L1590.9 304.5 L1598.1 305.1 L1605.4 305.8 L1612.7 306.4 L1619.9 307.0 L1627.2 307.7 L1634.4 308.3 L1641.7 308.9 L1648.9 309.6 L1656.2 310.2 L1663.4 310.8 L1670.7 311.4 L1677.9 312.0 L1685.2 312.6 L1692.4 313.3 L1699.7 313.9 L1706.9 314.5 L1714.2 315.0 L1721.4 315.6 L1728.7 316.2 L1735.9 316.8 L1743.2 317.4 L1750.4 318.0 L1757.7 318.5 L1764.9 319.1 L1772.2 319.7 L1779.5 320.3 L1786.7 320.8 L1794.0 321.4 L1801.2 321.9 L1808.5 322.5 L1815.7 323.0 L1823.0 323.6 L1830.2 324.1 L1837.5 324.7 L1844.7 325.2 L1852.0 325.8 L1859.2 326.3 L1866.5 326.8 L1873.7 327.4 L1881.0 327.9 L1888.2 328.4 L1895.5 328.9 L1902.7 329.5 L1910.0 330.0 L1917.2 330.5 L1924.5 331.0 L1931.7 331.5 L1939.0 332.0 L1946.2 332.5 L1953.5 333.0" fill="none" stroke="#5acd32" stroke-width="3.1" stroke-linejoin="round" clip-path="url(#plot)"/>
<path d="M430.6 41.9 l8 8 l-8 8 l-8 -8 z" fill="#62d03a" stroke="#12350a" stroke-width="1.7" stroke-linejoin="miter"/>
<path d="M503.1 84.3 l8 8 l-8 8 l-8 -8 z" fill="#62d03a" stroke="#12350a" stroke-width="1.7" stroke-linejoin="miter"/>
<path d="M575.6 116.6 l8 8 l-8 8 l-8 -8 z" fill="#62d03a" stroke="#12350a" stroke-width="1.7" stroke-linejoin="miter"/>
<path d="M648.1 142.6 l8 8 l-8 8 l-8 -8 z" fill="#62d03a" stroke="#12350a" stroke-width="1.7" stroke-linejoin="miter"/>
<path d="M720.6 164.3 l8 8 l-8 8 l-8 -8 z" fill="#62d03a" stroke="#12350a" stroke-width="1.7" stroke-linejoin="miter"/>
<path d="M793.2 182.8 l8 8 l-8 8 l-8 -8 z" fill="#62d03a" stroke="#12350a" stroke-width="1.7" stroke-linejoin="miter"/>
<path d="M865.7 199.0 l8 8 l-8 8 l-8 -8 z" fill="#62d03a" stroke="#12350a" stroke-width="1.7" stroke-linejoin="miter"/>
<path d="M938.2 213.3 l8 8 l-8 8 l-8 -8 z" fill="#62d03a" stroke="#12350a" stroke-width="1.7" stroke-linejoin="miter"/>
<path d="M1010.7 226.1 l8 8 l-8 8 l-8 -8 z" fill="#62d03a" stroke="#12350a" stroke-width="1.7" stroke-linejoin="miter"/>
<path d="M1083.2 237.6 l8 8 l-8 8 l-8 -8 z" fill="#62d03a" stroke="#12350a" stroke-width="1.7" stroke-linejoin="miter"/>
<path d="M1155.8 248.1 l8 8 l-8 8 l-8 -8 z" fill="#62d03a" stroke="#12350a" stroke-width="1.7" stroke-linejoin="miter"/>
<path d="M1228.3 257.8 l8 8 l-8 8 l-8 -8 z" fill="#62d03a" stroke="#12350a" stroke-width="1.7" stroke-linejoin="miter"/>
<path d="M1300.8 266.6 l8 8 l-8 8 l-8 -8 z" fill="#62d03a" stroke="#12350a" stroke-width="1.7" stroke-linejoin="miter"/>
<path d="M1344.3 271.7 l8 8 l-8 8 l-8 -8 z" fill="#62d03a" stroke="#12350a" stroke-width="1.7" stroke-linejoin="miter"/>
<path d="M1373.3 274.9 l8 8 l-8 8 l-8 -8 z" fill="#62d03a" stroke="#12350a" stroke-width="1.7" stroke-linejoin="miter"/>
<path d="M1445.9 282.6 l8 8 l-8 8 l-8 -8 z" fill="#62d03a" stroke="#12350a" stroke-width="1.7" stroke-linejoin="miter"/>
<path d="M1518.4 289.7 l8 8 l-8 8 l-8 -8 z" fill="#62d03a" stroke="#12350a" stroke-width="1.7" stroke-linejoin="miter"/>
<path d="M1590.9 296.5 l8 8 l-8 8 l-8 -8 z" fill="#62d03a" stroke="#12350a" stroke-width="1.7" stroke-linejoin="miter"/>
<path d="M1663.4 302.8 l8 8 l-8 8 l-8 -8 z" fill="#62d03a" stroke="#12350a" stroke-width="1.7" stroke-linejoin="miter"/>
<path d="M1735.9 308.8 l8 8 l-8 8 l-8 -8 z" fill="#62d03a" stroke="#12350a" stroke-width="1.7" stroke-linejoin="miter"/>
<path d="M1808.5 314.5 l8 8 l-8 8 l-8 -8 z" fill="#62d03a" stroke="#12350a" stroke-width="1.7" stroke-linejoin="miter"/>
<path d="M1881.0 319.9 l8 8 l-8 8 l-8 -8 z" fill="#62d03a" stroke="#12350a" stroke-width="1.7" stroke-linejoin="miter"/>
<path d="M1953.5 325.0 l8 8 l-8 8 l-8 -8 z" fill="#62d03a" stroke="#12350a" stroke-width="1.7" stroke-linejoin="miter"/>
</g>
<text class="ax" x="213.0" y="988" text-anchor="middle">0</text>
<text class="ax" x="358.0" y="988" text-anchor="middle">100</text>
<text class="ax" x="503.1" y="988" text-anchor="middle">200</text>
<text class="ax" x="648.1" y="988" text-anchor="middle">300</text>
<text class="ax" x="793.2" y="988" text-anchor="middle">400</text>
<text class="ax" x="938.2" y="988" text-anchor="middle">500</text>
<text class="ax" x="1083.2" y="988" text-anchor="middle">600</text>
<text class="ax" x="1228.3" y="988" text-anchor="middle">700</text>
<text class="ax" x="1373.3" y="988" text-anchor="middle">800</text>
<text class="ax" x="1518.4" y="988" text-anchor="middle">900</text>
<text class="ax" x="1663.4" y="988" text-anchor="middle">1000</text>
<text class="ax" x="1808.5" y="988" text-anchor="middle">1100</text>
<text class="ax" x="1953.5" y="988" text-anchor="middle">1200</text>
<text class="ax" x="183" y="38.0" text-anchor="end">100.0</text>
<text class="ax" x="183" y="265.0" text-anchor="end">10.0</text>
<text class="ax" x="183" y="493.0" text-anchor="end">1.0</text>
<text class="ax" x="183" y="720.5" text-anchor="end">0.1</text>
<text class="ax" x="183" y="948.3" text-anchor="end">0.0</text>
<text class="ttl" x="1072.7" y="1070.4" text-anchor="middle">Hot Spot Temperature (°C)</text>
<text class="ttl" transform="translate(52.1 485.2) rotate(-90)" text-anchor="middle">Pixel portion occupied by the hot spot (%)</text>
<text class="ann" x="1435.2" y="157.6" textLength="320" lengthAdjust="spacingAndGlyphs">TIR &amp; MIR saturated</text>
<text class="ann" x="1210.6" y="389.5" textLength="228" lengthAdjust="spacingAndGlyphs">MIR saturated</text>
<text class="ann" x="431.4" y="781.7" textLength="221.8" lengthAdjust="spacingAndGlyphs">Not saturated</text>
<text class="rot" transform="translate(1573.5 284.0) rotate(5.1)" textLength="254.5" lengthAdjust="spacingAndGlyphs">TIR saturation line</text>
<text class="rot" transform="translate(1507.0 502.0) rotate(8.3)" textLength="325.5" lengthAdjust="spacingAndGlyphs">Band 21 saturation line</text>
<text class="rot" transform="translate(1465.3 802.8) rotate(8.1)" textLength="325.8" lengthAdjust="spacingAndGlyphs">Band 22 saturation line</text>
<line x1="563.7" y1="1133.7" x2="602.5" y2="1133.7" stroke="#000000" stroke-width="3.7"/>
<path d="M583.1 1125.8 l8.8 16.4 h-17.6 z" fill="#000"/>
<text class="lg" x="604.2" y="1143.4">Band 21</text>
<line x1="805.0" y1="1133.7" x2="843.7" y2="1133.7" stroke="#00ccff" stroke-width="2.9"/>
<circle cx="824.4" cy="1134.4" r="6.1" fill="#00ccff" stroke="#143848" stroke-width="1.8"/>
<text class="lg" x="846.2" y="1143.4">Band 22</text>
<line x1="1044.2" y1="1133.7" x2="1083.7" y2="1133.7" stroke="#ff1493" stroke-width="3.1"/>
<rect x="1057.7" y="1128.1" width="12.6" height="12.6" fill="#ff1f96" stroke="#3a0a20" stroke-width="1.7"/>
<text class="lg" x="1086.2" y="1143.4">Band 31</text>
<line x1="1285.0" y1="1133.7" x2="1324.5" y2="1133.7" stroke="#5acd32" stroke-width="3.1"/>
<path d="M1304.8 1126.4 l8 8 l-8 8 l-8 -8 z" fill="#62d03a" stroke="#12350a" stroke-width="1.7" stroke-linejoin="miter"/>
<text class="lg" x="1326.9" y="1143.4">Band 32</text>
</svg></body></html>
